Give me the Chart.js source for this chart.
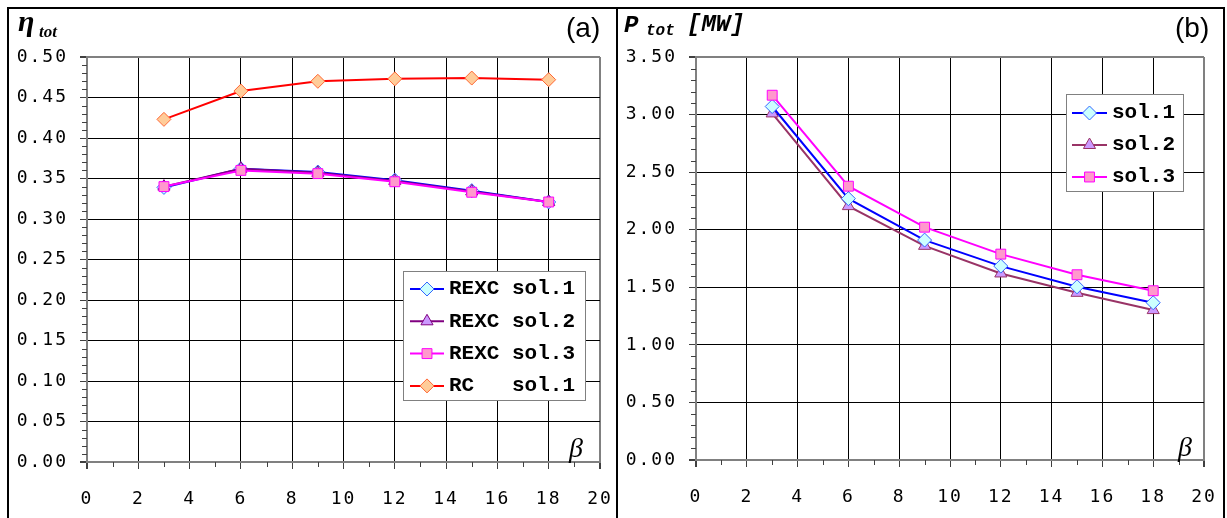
<!DOCTYPE html>
<html>
<head>
<meta charset="utf-8">
<script src="https://cdn.jsdelivr.net/npm/chart.js@4.4.0/dist/chart.umd.min.js"></script>
<style>
body { margin: 0; background: #fff; }
#page { position: relative; width: 1227px; height: 518px; overflow: hidden; background: #fff; }
canvas { position: absolute; top: 0; }
#chartA { left: 0; }
#chartB { left: 617px; }
.rule { position: absolute; background: #000; }
.lbl { position: absolute; line-height: 1; white-space: pre; color: #000; }
.serif { font-family: "Liberation Serif", "DejaVu Serif", serif; font-style: italic; }
.mono { font-family: "Liberation Mono", "DejaVu Sans Mono", monospace; font-style: italic; font-weight: bold; }
.sans { font-family: "Liberation Sans", Arial, sans-serif; }
</style>
</head>
<body>
<div id="page">
  <canvas id="chartA" width="617" height="518"></canvas>
  <canvas id="chartB" width="610" height="518"></canvas>

  <div class="rule" style="left:7px; top:7px; width:1218px; height:2px;"></div>
  <div class="rule" style="left:7px; top:7px; width:2px; height:520px;"></div>
  <div class="rule" style="left:616px; top:7px; width:2px; height:520px;"></div>
  <div class="rule" style="left:1223px; top:7px; width:2px; height:520px;"></div>

  <span class="lbl serif" style="left:18px; top:6px; font-size:30px; font-weight:bold;">η</span>
  <span class="lbl serif" style="left:39px; top:23px; font-size:17px; font-weight:bold;">tot</span>
  <span class="lbl sans" style="left:566px; top:14px; font-size:28px;">(a)</span>
  <span class="lbl serif" style="left:569px; top:434px; font-size:28px;">β</span>

  <span class="lbl mono" style="left:624px; top:14px; font-size:24px;">P</span>
  <span class="lbl mono" style="left:646px; top:23px; font-size:16px;">tot</span>
  <span class="lbl mono" style="left:687px; top:13px; font-size:24px;">[MW]</span>
  <span class="lbl sans" style="left:1175px; top:14px; font-size:28px;">(b)</span>
  <span class="lbl serif" style="left:1178px; top:433px; font-size:28px;">β</span>
</div>

<script>
// pressure ratio on the x axis
const betaValues = [3, 6, 9, 12, 15, 18];

// (a) total efficiency
const etaRexcSol1 = [0.339, 0.362, 0.358, 0.348, 0.335, 0.321];
const etaRexcSol2 = [0.340, 0.362, 0.357, 0.347, 0.334, 0.321];
const etaRexcSol3 = [0.340, 0.360, 0.356, 0.346, 0.333, 0.321];
const etaRcSol1 = [0.423, 0.458, 0.470, 0.473, 0.474, 0.472];

// (b) total power [MW]
const powerSol1 = [3.07, 2.27, 1.91, 1.684, 1.504, 1.366];
const powerSol2 = [3.01, 2.205, 1.86, 1.62, 1.452, 1.302];
const powerSol3 = [3.168, 2.378, 2.022, 1.788, 1.609, 1.470];

const xTicks = { min: 0, max: 20, step: 2, minorStep: 1 };
const etaTicks = { min: 0, max: 0.5, step: 0.05, minorStep: 0.01 };
const powerTicks = { min: 0, max: 3.5, step: 0.5, minorStep: 0.1 };

const toPoints = (ys) => betaValues.map((x, i) => ({ x: x, y: ys[i] }));

const makeDataset = (label, ys, style) => ({
    label: label,
    data: toPoints(ys),
    borderColor: style.line,
    borderWidth: 2,
    pointStyle: style.shape,
    pointRadius: 7,
    pointBackgroundColor: style.fill,
    pointBorderColor: style.edge,
    pointBorderWidth: 1,
    tension: 0,
    order: style.order,
});

const isEdge = (v, lim) => Math.abs(v - lim.min) < 1e-9 || Math.abs(v - lim.max) < 1e-9;

const linearAxis = (lim, fmt, size, pad) => ({
    type: 'linear',
    min: lim.min,
    max: lim.max,
    afterFit: (scale) => {
        if (scale.isHorizontal()) scale.height = size;
        else scale.width = size;
        scale.paddingLeft = 0;
        scale.paddingRight = 0;
        scale.paddingTop = 0;
        scale.paddingBottom = 0;
    },
    grid: {
        color: (c) => (c.tick && isEdge(c.tick.value, lim)) ? '#808080' : '#000',
        lineWidth: (c) => (c.tick && isEdge(c.tick.value, lim)) ? 2 : 1,
        tickColor: '#404040',
        tickLength: 7,
    },
    border: { color: '#808080', width: 2 },
    ticks: {
        stepSize: lim.step,
        autoSkip: false,
        maxRotation: 0,
        color: '#000',
        padding: pad,
        font: { family: 'DejaVu Sans Mono', size: 18 },
        callback: fmt,
    },
});

// little ticks between the labelled ones, placed through the scales
const minorTicks = {
    id: 'minorTicks',
    afterDraw(chart, args, opts) {
        const ctx = chart.ctx;
        const xs = chart.scales.x;
        const ys = chart.scales.y;
        ctx.save();
        ctx.strokeStyle = '#404040';
        ctx.lineWidth = 1;
        ctx.beginPath();
        for (let v = opts.x.min; v <= opts.x.max + 1e-9; v += opts.x.minorStep) {
            const n = Math.round(v / opts.x.minorStep);
            if (n % Math.round(opts.x.step / opts.x.minorStep) === 0) continue;
            const px = Math.round(xs.getPixelForValue(v)) + 0.5;
            ctx.moveTo(px, ys.bottom);
            ctx.lineTo(px, ys.bottom + 5);
        }
        const k = Math.round(opts.y.step / opts.y.minorStep);
        for (let n = 0; n * opts.y.minorStep <= opts.y.max + 1e-9; n++) {
            if (n % k === 0) continue;
            const py = Math.round(ys.getPixelForValue(n * opts.y.minorStep)) + 0.5;
            ctx.moveTo(xs.left - 5, py);
            ctx.lineTo(xs.left, py);
        }
        ctx.stroke();
        ctx.restore();
    }
};

const spacedText = {
    id: 'spacedText',
    beforeDraw(chart) {
        chart.ctx.letterSpacing = '2px';
    }
};

const insideLegend = {
    id: 'insideLegend',
    afterDraw(chart, args, opts) {
        const ctx = chart.ctx;
        const b = opts.box;
        ctx.save();
        ctx.letterSpacing = '0px';
        ctx.fillStyle = '#fff';
        ctx.fillRect(b.x, b.y, b.w, b.h);
        ctx.strokeStyle = '#808080';
        ctx.lineWidth = 1;
        ctx.strokeRect(b.x + 0.5, b.y + 0.5, b.w, b.h);
        ctx.font = 'bold 21px "Liberation Mono"';
        ctx.textBaseline = 'middle';
        chart.data.datasets.forEach((ds, i) => {
            const y = opts.rowY + i * opts.rowGap;
            ctx.strokeStyle = ds.borderColor;
            ctx.lineWidth = ds.borderWidth;
            ctx.beginPath();
            ctx.moveTo(opts.lineX0, y);
            ctx.lineTo(opts.lineX1, y);
            ctx.stroke();
            ctx.fillStyle = ds.pointBackgroundColor;
            ctx.strokeStyle = ds.pointBorderColor;
            ctx.lineWidth = ds.pointBorderWidth;
            Chart.helpers.drawPoint(ctx, {
                pointStyle: ds.pointStyle,
                radius: ds.pointRadius,
                rotation: 0,
                borderWidth: ds.pointBorderWidth
            }, (opts.lineX0 + opts.lineX1) / 2, y);
            ctx.fillStyle = '#000';
            ctx.fillText(ds.label, opts.textX, y);
        });
        ctx.restore();
    }
};

const baseOptions = (yLim, yFmt, yWidth, xHeight, padding, legend) => ({
    responsive: false,
    animation: false,
    events: [],
    devicePixelRatio: 1,
    layout: { padding: padding },
    scales: {
        x: linearAxis(xTicks, (v) => v, xHeight, 20),
        y: linearAxis(yLim, yFmt, yWidth, 12),
    },
    plugins: {
        legend: { display: false },
        tooltip: { enabled: false },
        minorTicks: { x: xTicks, y: yLim },
        insideLegend: legend,
    },
});

new Chart(document.getElementById('chartA'), {
    type: 'line',
    data: {
        datasets: [
            makeDataset('REXC sol.1', etaRexcSol1, { line: '#0000ff', fill: '#ccffff', edge: '#3366ff', shape: 'rectRot', order: 3 }),
            makeDataset('REXC sol.2', etaRexcSol2, { line: '#800080', fill: '#cc99ff', edge: '#800080', shape: 'triangle', order: 2 }),
            makeDataset('REXC sol.3', etaRexcSol3, { line: '#ff00ff', fill: '#ff99cc', edge: '#ff00ff', shape: 'rect', order: 1 }),
            makeDataset('RC   sol.1', etaRcSol1, { line: '#ff0000', fill: '#ffcc99', edge: '#ff6633', shape: 'rectRot', order: 0 }),
        ]
    },
    options: baseOptions(etaTicks, (v) => v.toFixed(2), 87, 56,
        { top: 57, right: 17, bottom: 0, left: 0 },
        { box: { x: 403, y: 271, w: 182, h: 129 }, rowY: 289, rowGap: 32.3, lineX0: 410, lineX1: 444, textX: 449 }),
    plugins: [spacedText, minorTicks, insideLegend]
});

new Chart(document.getElementById('chartB'), {
    type: 'line',
    data: {
        datasets: [
            makeDataset('sol.1', powerSol1, { line: '#0000ff', fill: '#ccffff', edge: '#3366ff', shape: 'rectRot', order: 2 }),
            makeDataset('sol.2', powerSol2, { line: '#993366', fill: '#cc99ff', edge: '#993366', shape: 'triangle', order: 3 }),
            makeDataset('sol.3', powerSol3, { line: '#ff00ff', fill: '#ff99cc', edge: '#ff00ff', shape: 'rect', order: 1 }),
        ]
    },
    options: baseOptions(powerTicks, (v) => v.toFixed(2), 79, 58,
        { top: 57, right: 23, bottom: 0, left: 0 },
        { box: { x: 449, y: 94, w: 117, h: 97 }, rowY: 113, rowGap: 32, lineX0: 455, lineX1: 490, textX: 495 }),
    plugins: [spacedText, minorTicks, insideLegend]
});
</script>
</body>
</html>
